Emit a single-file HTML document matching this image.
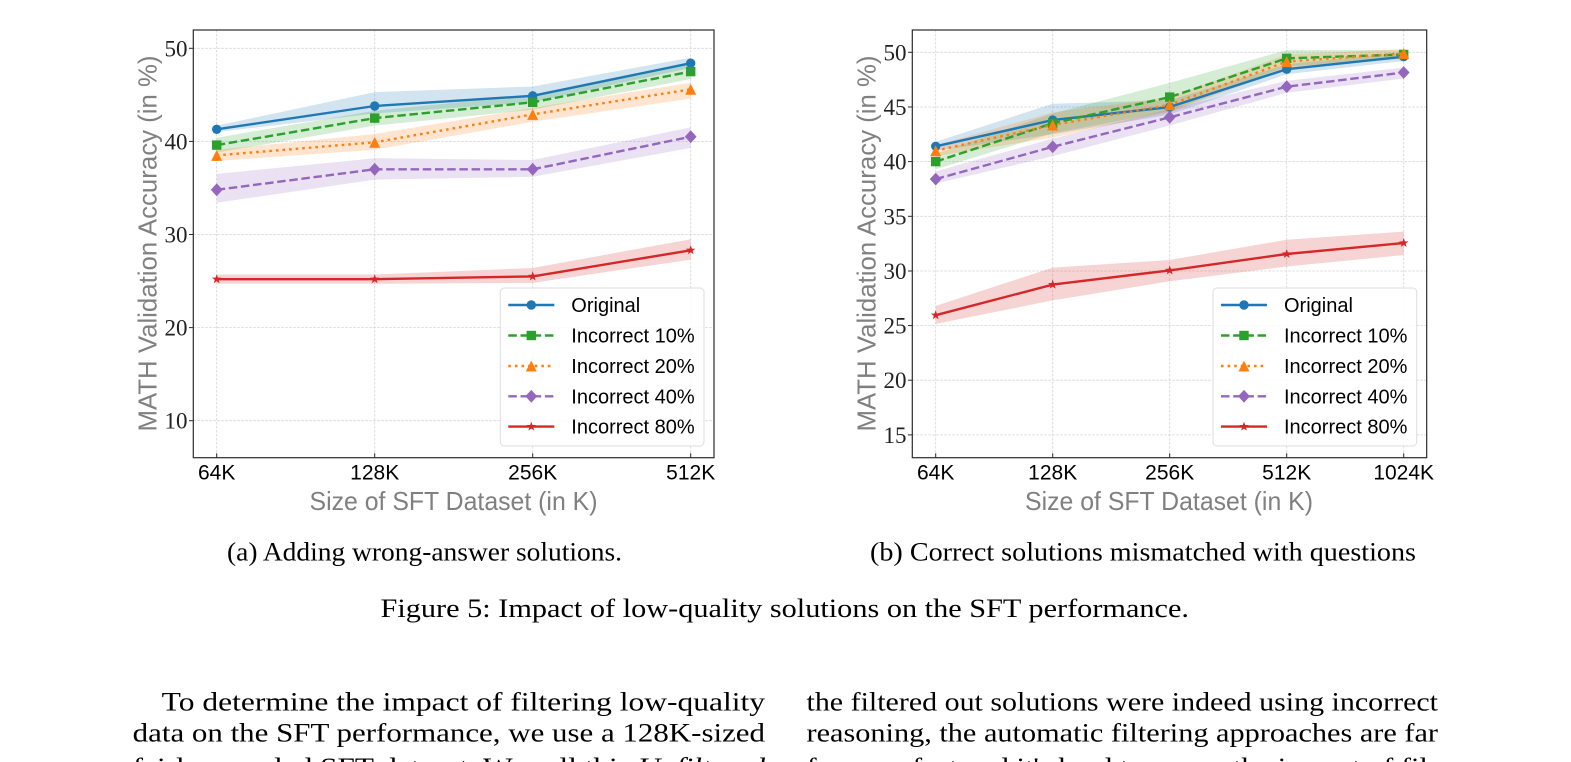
<!DOCTYPE html>
<html><head><meta charset="utf-8"><style>
html,body{margin:0;padding:0;background:#fff;}
svg{display:block;}
.tk{font-family:"Liberation Sans",sans-serif;font-size:21px;fill:#000;}
.yt{font-family:"Liberation Serif",serif;font-size:23px;fill:#222;}
.al{font-family:"Liberation Sans",sans-serif;font-size:26px;fill:#808080;}
.lg{font-family:"Liberation Sans",sans-serif;font-size:20px;fill:#000;}
.cap{font-family:"Liberation Serif",serif;font-size:26.5px;fill:#000;}
.grid line{stroke:#d4d4d4;stroke-width:0.8;stroke-dasharray:2.5 1.5;}
.ln{fill:none;stroke-width:2.4;stroke-linejoin:round;}
</style></head><body>
<svg width="1571" height="762" viewBox="0 0 1571 762" xmlns="http://www.w3.org/2000/svg">
<defs>
<polygon id="st" points="0,-5 1.18,-1.62 4.76,-1.55 1.9,0.62 2.94,4.05 0,2 -2.94,4.05 -1.9,0.62 -4.76,-1.55 -1.18,-1.62"/>
</defs>
<rect width="1571" height="762" fill="#fff"/>

<!-- ================= LEFT CHART ================= -->
<g class="grid">
<line x1="216.7" y1="30" x2="216.7" y2="457.7"/>
<line x1="374.7" y1="30" x2="374.7" y2="457.7"/>
<line x1="532.7" y1="30" x2="532.7" y2="457.7"/>
<line x1="690.7" y1="30" x2="690.7" y2="457.7"/>
<line x1="193.3" y1="48.3" x2="714" y2="48.3"/>
<line x1="193.3" y1="141.4" x2="714" y2="141.4"/>
<line x1="193.3" y1="234.5" x2="714" y2="234.5"/>
<line x1="193.3" y1="327.6" x2="714" y2="327.6"/>
<line x1="193.3" y1="420.7" x2="714" y2="420.7"/>
</g>
<polygon fill="rgba(31,119,180,0.2)" points="216.7,125.6 374.7,92.1 532.7,86.5 690.7,57.6 690.7,67.9 532.7,102.3 374.7,113.5 216.7,132.1"/>
<polygon fill="rgba(44,160,44,0.2)" points="216.7,137.7 374.7,110.7 532.7,94.9 690.7,63.2 690.7,79.0 532.7,109.7 374.7,125.6 216.7,152.6"/>
<polygon fill="rgba(255,127,14,0.2)" points="216.7,149.8 374.7,134.0 532.7,107.9 690.7,82.7 690.7,98.6 532.7,121.8 374.7,149.8 216.7,161.0"/>
<polygon fill="rgba(148,103,189,0.2)" points="216.7,174.0 374.7,158.2 532.7,160.0 690.7,127.4 690.7,147.9 532.7,176.8 374.7,179.6 216.7,202.8"/>
<polygon fill="rgba(214,39,40,0.2)" points="216.7,274.5 374.7,274.5 532.7,268.0 690.7,239.2 690.7,259.6 532.7,282.9 374.7,283.8 216.7,283.8"/>
<path class="ln" stroke="#1f77b4" d="M216.7,129.3 L374.7,106.0 L532.7,95.8 L690.7,63.2"/>
<g fill="#1f77b4"><circle cx="216.7" cy="129.3" r="4.7"/><circle cx="374.7" cy="106.0" r="4.7"/><circle cx="532.7" cy="95.8" r="4.7"/><circle cx="690.7" cy="63.2" r="4.7"/></g>
<path class="ln" stroke="#2ca02c" stroke-dasharray="8.5 3.7" d="M216.7,145.1 L374.7,118.1 L532.7,102.3 L690.7,71.6"/>
<g fill="#2ca02c"><rect x="212" y="140.4" width="9.4" height="9.4"/><rect x="370" y="113.4" width="9.4" height="9.4"/><rect x="528" y="97.6" width="9.4" height="9.4"/><rect x="686" y="66.9" width="9.4" height="9.4"/></g>
<path class="ln" stroke="#ff7f0e" stroke-dasharray="2.6 4" d="M216.7,155.4 L374.7,142.3 L532.7,114.4 L690.7,89.3"/>
<g fill="#ff7f0e"><polygon points="216.7,150 211.2,160.9 222.2,160.9"/><polygon points="374.7,136.9 369.2,147.8 380.2,147.8"/><polygon points="532.7,109 527.2,119.9 538.2,119.9"/><polygon points="690.7,83.9 685.2,94.8 696.2,94.8"/></g>
<path class="ln" stroke="#9467bd" stroke-dasharray="8.5 3.7" d="M216.7,189.8 L374.7,169.3 L532.7,169.3 L690.7,136.7"/>
<g fill="#9467bd"><polygon points="216.7,183.4 222.6,189.8 216.7,196.2 210.8,189.8"/><polygon points="374.7,162.9 380.6,169.3 374.7,175.7 368.8,169.3"/><polygon points="532.7,162.9 538.6,169.3 532.7,175.7 526.8,169.3"/><polygon points="690.7,130.3 696.6,136.7 690.7,143.1 684.8,136.7"/></g>
<path class="ln" stroke="#d62728" d="M216.7,279.2 L374.7,279.2 L532.7,276.4 L690.7,250.3"/>
<g fill="#d62728"><use href="#st" x="216.7" y="279.2"/><use href="#st" x="374.7" y="279.2"/><use href="#st" x="532.7" y="276.4"/><use href="#st" x="690.7" y="250.3"/></g>
<rect x="193.3" y="30" width="520.7" height="427.7" fill="none" stroke="#2a2a2a" stroke-width="1.2"/>
<g stroke="#2a2a2a" stroke-width="1">
<line x1="216.7" y1="457.7" x2="216.7" y2="453.3"/><line x1="374.7" y1="457.7" x2="374.7" y2="453.3"/><line x1="532.7" y1="457.7" x2="532.7" y2="453.3"/><line x1="690.7" y1="457.7" x2="690.7" y2="453.3"/>
<line x1="189" y1="48.3" x2="193.3" y2="48.3"/><line x1="189" y1="141.4" x2="193.3" y2="141.4"/><line x1="189" y1="234.5" x2="193.3" y2="234.5"/><line x1="189" y1="327.6" x2="193.3" y2="327.6"/><line x1="189" y1="420.7" x2="193.3" y2="420.7"/>
</g>
<g class="yt" text-anchor="end">
<text x="187.5" y="56.3">50</text><text x="187.5" y="149.4">40</text><text x="187.5" y="242.5">30</text><text x="187.5" y="335.6">20</text><text x="187.5" y="428.7">10</text>
</g>
<g class="tk" text-anchor="middle">
<text x="216.7" y="479.5">64K</text><text x="374.7" y="479.5">128K</text><text x="532.7" y="479.5">256K</text><text x="690.7" y="479.5">512K</text>
</g>
<text class="al" x="453.5" y="510" text-anchor="middle" textLength="288" lengthAdjust="spacingAndGlyphs">Size of SFT Dataset (in K)</text>
<text class="al" transform="translate(156.5,243.5) rotate(-90)" text-anchor="middle" textLength="376" lengthAdjust="spacingAndGlyphs">MATH Validation Accuracy (in %)</text>
<rect x="500.3" y="288" width="203.7" height="158" rx="4" fill="#fff" fill-opacity="0.85" stroke="#dedede" stroke-width="1"/>
<line x1="508.3" y1="305" x2="554.3" y2="305" stroke="#1f77b4" stroke-width="2.4"/><circle cx="531.3" cy="305" r="4.7" fill="#1f77b4"/>
<line x1="508.3" y1="335.5" x2="554.3" y2="335.5" stroke="#2ca02c" stroke-width="2.4" stroke-dasharray="8.5 3.7"/><rect x="526.6" y="330.8" width="9.4" height="9.4" fill="#2ca02c"/>
<line x1="508.3" y1="366" x2="554.3" y2="366" stroke="#ff7f0e" stroke-width="2.4" stroke-dasharray="2.6 4"/><polygon points="531.3,360.6 525.8,371.5 536.8,371.5" fill="#ff7f0e"/>
<line x1="508.3" y1="396.3" x2="554.3" y2="396.3" stroke="#9467bd" stroke-width="2.4" stroke-dasharray="8.5 3.7"/><polygon points="531.3,389.9 537.2,396.3 531.3,402.7 525.4,396.3" fill="#9467bd"/>
<line x1="508.3" y1="426.6" x2="554.3" y2="426.6" stroke="#d62728" stroke-width="2.4"/><use href="#st" x="531.3" y="426.6" fill="#d62728"/>
<g class="lg">
<text x="571.3" y="312">Original</text>
<text x="571.3" y="342.5">Incorrect 10%</text>
<text x="571.3" y="373">Incorrect 20%</text>
<text x="571.3" y="403.3">Incorrect 40%</text>
<text x="571.3" y="433.6">Incorrect 80%</text>
</g>

<!-- ================= RIGHT CHART ================= -->
<g class="grid">
<line x1="935.7" y1="30" x2="935.7" y2="457.7"/>
<line x1="1052.7" y1="30" x2="1052.7" y2="457.7"/>
<line x1="1169.7" y1="30" x2="1169.7" y2="457.7"/>
<line x1="1286.7" y1="30" x2="1286.7" y2="457.7"/>
<line x1="1403.7" y1="30" x2="1403.7" y2="457.7"/>
<line x1="912.3" y1="52.3" x2="1426.7" y2="52.3"/>
<line x1="912.3" y1="107" x2="1426.7" y2="107"/>
<line x1="912.3" y1="161.6" x2="1426.7" y2="161.6"/>
<line x1="912.3" y1="216.3" x2="1426.7" y2="216.3"/>
<line x1="912.3" y1="271" x2="1426.7" y2="271"/>
<line x1="912.3" y1="325.6" x2="1426.7" y2="325.6"/>
<line x1="912.3" y1="380.2" x2="1426.7" y2="380.2"/>
<line x1="912.3" y1="434.9" x2="1426.7" y2="434.9"/>
</g>
<polygon fill="rgba(31,119,180,0.2)" points="935.7,141.9 1052.7,103.7 1169.7,100.4 1286.7,64.3 1403.7,52.3 1403.7,61.0 1286.7,74.2 1169.7,114.6 1052.7,134.3 935.7,150.7"/>
<polygon fill="rgba(44,160,44,0.2)" points="935.7,153.9 1052.7,113.5 1169.7,82.9 1286.7,50.1 1403.7,50.1 1403.7,58.9 1286.7,66.5 1169.7,111.3 1052.7,133.2 935.7,169.3"/>
<polygon fill="rgba(255,127,14,0.2)" points="935.7,145.2 1052.7,112.4 1169.7,97.1 1286.7,54.5 1403.7,49.0 1403.7,57.8 1286.7,68.7 1169.7,112.4 1052.7,137.6 935.7,156.1"/>
<polygon fill="rgba(148,103,189,0.2)" points="935.7,171.4 1052.7,138.6 1169.7,109.1 1286.7,80.7 1403.7,67.6 1403.7,78.5 1286.7,92.7 1169.7,125.5 1052.7,156.1 935.7,183.5"/>
<polygon fill="rgba(214,39,40,0.2)" points="935.7,305.9 1052.7,267.6 1169.7,260.0 1286.7,239.7 1403.7,231.6 1403.7,255.1 1286.7,266.5 1169.7,281.3 1052.7,300.4 935.7,323.9"/>
<path class="ln" stroke="#1f77b4" d="M935.7,146.3 L1052.7,120.1 L1169.7,107.0 L1286.7,69.2 L1403.7,56.7"/>
<g fill="#1f77b4"><circle cx="935.7" cy="146.3" r="4.7"/><circle cx="1052.7" cy="120.1" r="4.7"/><circle cx="1169.7" cy="107.0" r="4.7"/><circle cx="1286.7" cy="69.2" r="4.7"/><circle cx="1403.7" cy="56.7" r="4.7"/></g>
<path class="ln" stroke="#2ca02c" stroke-dasharray="8.5 3.7" d="M935.7,161.6 L1052.7,123.3 L1169.7,97.1 L1286.7,58.3 L1403.7,54.5"/>
<g fill="#2ca02c"><rect x="931" y="156.9" width="9.4" height="9.4"/><rect x="1048" y="118.6" width="9.4" height="9.4"/><rect x="1165" y="92.4" width="9.4" height="9.4"/><rect x="1282" y="53.6" width="9.4" height="9.4"/><rect x="1399" y="49.8" width="9.4" height="9.4"/></g>
<path class="ln" stroke="#ff7f0e" stroke-dasharray="2.6 4" d="M935.7,150.7 L1052.7,125.0 L1169.7,104.8 L1286.7,61.6 L1403.7,53.4"/>
<g fill="#ff7f0e"><polygon points="935.7,145.3 930.2,156.2 941.2,156.2"/><polygon points="1052.7,119.6 1047.2,130.5 1058.2,130.5"/><polygon points="1169.7,99.4 1164.2,110.3 1175.2,110.3"/><polygon points="1286.7,56.2 1281.2,67.1 1292.2,67.1"/><polygon points="1403.7,48 1398.2,58.9 1409.2,58.9"/></g>
<path class="ln" stroke="#9467bd" stroke-dasharray="8.5 3.7" d="M935.7,179.1 L1052.7,146.8 L1169.7,117.3 L1286.7,86.7 L1403.7,72.5"/>
<g fill="#9467bd"><polygon points="935.7,172.7 941.6,179.1 935.7,185.5 929.8,179.1"/><polygon points="1052.7,140.4 1058.6,146.8 1052.7,153.2 1046.8,146.8"/><polygon points="1169.7,110.9 1175.6,117.3 1169.7,123.7 1163.8,117.3"/><polygon points="1286.7,80.3 1292.6,86.7 1286.7,93.1 1280.8,86.7"/><polygon points="1403.7,66.1 1409.6,72.5 1403.7,78.9 1397.8,72.5"/></g>
<path class="ln" stroke="#d62728" d="M935.7,315.2 L1052.7,284.6 L1169.7,270.4 L1286.7,254.0 L1403.7,243.0"/>
<g fill="#d62728"><use href="#st" x="935.7" y="315.2"/><use href="#st" x="1052.7" y="284.6"/><use href="#st" x="1169.7" y="270.4"/><use href="#st" x="1286.7" y="254.0"/><use href="#st" x="1403.7" y="243.0"/></g>
<rect x="912.3" y="30" width="514.4" height="427.7" fill="none" stroke="#2a2a2a" stroke-width="1.2"/>
<g stroke="#2a2a2a" stroke-width="1">
<line x1="935.7" y1="457.7" x2="935.7" y2="453.3"/><line x1="1052.7" y1="457.7" x2="1052.7" y2="453.3"/><line x1="1169.7" y1="457.7" x2="1169.7" y2="453.3"/><line x1="1286.7" y1="457.7" x2="1286.7" y2="453.3"/><line x1="1403.7" y1="457.7" x2="1403.7" y2="453.3"/>
<line x1="908" y1="52.3" x2="912.3" y2="52.3"/><line x1="908" y1="107" x2="912.3" y2="107"/><line x1="908" y1="161.6" x2="912.3" y2="161.6"/><line x1="908" y1="216.3" x2="912.3" y2="216.3"/><line x1="908" y1="271" x2="912.3" y2="271"/><line x1="908" y1="325.6" x2="912.3" y2="325.6"/><line x1="908" y1="380.2" x2="912.3" y2="380.2"/><line x1="908" y1="434.9" x2="912.3" y2="434.9"/>
</g>
<g class="yt" text-anchor="end">
<text x="906.5" y="60.3">50</text><text x="906.5" y="115">45</text><text x="906.5" y="169.6">40</text><text x="906.5" y="224.3">35</text><text x="906.5" y="279">30</text><text x="906.5" y="333.6">25</text><text x="906.5" y="388.2">20</text><text x="906.5" y="442.9">15</text>
</g>
<g class="tk" text-anchor="middle">
<text x="935.7" y="479.5">64K</text><text x="1052.7" y="479.5">128K</text><text x="1169.7" y="479.5">256K</text><text x="1286.7" y="479.5">512K</text><text x="1403.7" y="479.5">1024K</text>
</g>
<text class="al" x="1169" y="510" text-anchor="middle" textLength="288" lengthAdjust="spacingAndGlyphs">Size of SFT Dataset (in K)</text>
<text class="al" transform="translate(875.5,243.5) rotate(-90)" text-anchor="middle" textLength="376" lengthAdjust="spacingAndGlyphs">MATH Validation Accuracy (in %)</text>
<rect x="1213" y="288" width="203.7" height="158" rx="4" fill="#fff" fill-opacity="0.85" stroke="#dedede" stroke-width="1"/>
<line x1="1221" y1="305" x2="1267" y2="305" stroke="#1f77b4" stroke-width="2.4"/><circle cx="1244" cy="305" r="4.7" fill="#1f77b4"/>
<line x1="1221" y1="335.5" x2="1267" y2="335.5" stroke="#2ca02c" stroke-width="2.4" stroke-dasharray="8.5 3.7"/><rect x="1239.3" y="330.8" width="9.4" height="9.4" fill="#2ca02c"/>
<line x1="1221" y1="366" x2="1267" y2="366" stroke="#ff7f0e" stroke-width="2.4" stroke-dasharray="2.6 4"/><polygon points="1244,360.6 1238.5,371.5 1249.5,371.5" fill="#ff7f0e"/>
<line x1="1221" y1="396.3" x2="1267" y2="396.3" stroke="#9467bd" stroke-width="2.4" stroke-dasharray="8.5 3.7"/><polygon points="1244,389.9 1249.9,396.3 1244,402.7 1238.1,396.3" fill="#9467bd"/>
<line x1="1221" y1="426.6" x2="1267" y2="426.6" stroke="#d62728" stroke-width="2.4"/><use href="#st" x="1244" y="426.6" fill="#d62728"/>
<g class="lg">
<text x="1284" y="312">Original</text>
<text x="1284" y="342.5">Incorrect 10%</text>
<text x="1284" y="373">Incorrect 20%</text>
<text x="1284" y="403.3">Incorrect 40%</text>
<text x="1284" y="433.6">Incorrect 80%</text>
</g>

<!-- ================= CAPTIONS & BODY ================= -->
<text class="cap" x="227" y="560.5" textLength="395" lengthAdjust="spacingAndGlyphs">(a) Adding wrong-answer solutions.</text>
<text class="cap" x="870" y="560.5" textLength="546" lengthAdjust="spacingAndGlyphs">(b) Correct solutions mismatched with questions</text>
<text class="cap" x="380.5" y="617" textLength="808.5" lengthAdjust="spacingAndGlyphs">Figure 5: Impact of low-quality solutions on the SFT performance.</text>

<text class="cap" x="161.7" y="710.7" textLength="603.3" lengthAdjust="spacingAndGlyphs">To determine the impact of filtering low-quality</text>
<text class="cap" x="132.7" y="741.7" textLength="632.3" lengthAdjust="spacingAndGlyphs">data on the SFT performance, we use a 128K-sized</text>
<text class="cap" x="132.7" y="776" textLength="632.3" lengthAdjust="spacingAndGlyphs">fairly sampled SFT dataset. We call this <tspan font-style="italic">Unfiltered</tspan></text>
<text class="cap" x="806.5" y="710.7" textLength="631.5" lengthAdjust="spacingAndGlyphs">the filtered out solutions were indeed using incorrect</text>
<text class="cap" x="806.5" y="741.7" textLength="631.5" lengthAdjust="spacingAndGlyphs">reasoning, the automatic filtering approaches are far</text>
<text class="cap" x="806.5" y="776" textLength="631.5" lengthAdjust="spacingAndGlyphs">from perfect and it's hard to assess the impact of fil-</text>
</svg>
</body></html>
